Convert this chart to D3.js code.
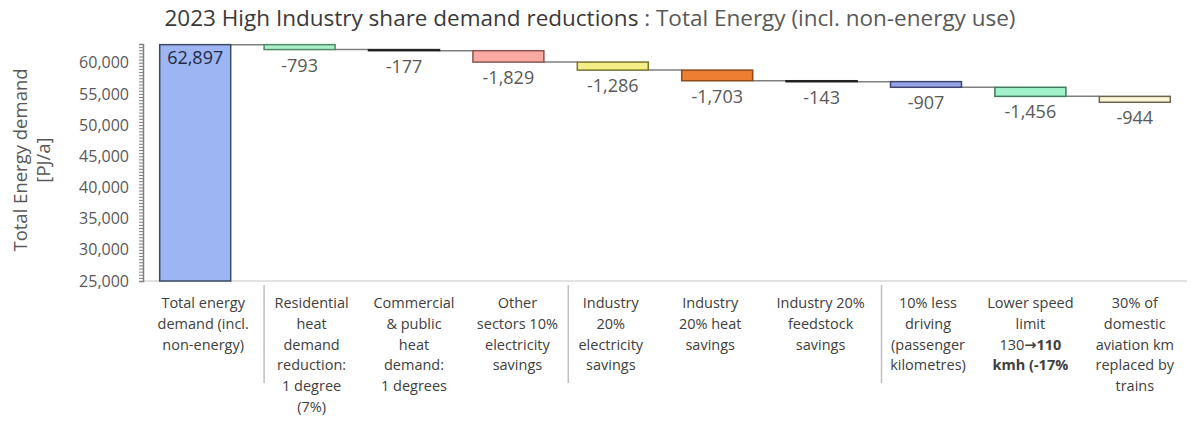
<!DOCTYPE html>
<html>
<head>
<meta charset="utf-8">
<script src="https://cdn.jsdelivr.net/npm/d3@7"></script>
<style>
  html, body { margin: 0; padding: 0; background: #fff; }
  svg { display: block; font-family: "Open Sans", "Noto Sans", sans-serif; }
</style>
</head>
<body>
<svg id="chart" width="1193" height="421"></svg>
<script>
// Demand-reduction steps, PJ/a
const categories = [
  "Total energy demand (incl. non-energy)",
  "Residential heat demand reduction: 1 degree (7%)",
  "Commercial & public heat demand: 1 degrees",
  "Other sectors 10% electricity savings",
  "Industry 20% electricity savings",
  "Industry 20% heat savings",
  "Industry 20% feedstock savings",
  "10% less driving (passenger kilometres)",
  "Lower speed limit 130→110 kmh (-17%",
  "30% of domestic aviation km replaced by trains"
];
const values = [62897, -793, -177, -1829, -1286, -1703, -143, -907, -1456, -944];

// wrapped lines of each category label ({t: text, b: bold})
const categoryLines = [
  [[{t:"Total energy"}], [{t:"demand (incl."}], [{t:"non-energy)"}]],
  [[{t:"Residential"}], [{t:"heat"}], [{t:"demand"}], [{t:"reduction:"}], [{t:"1 degree"}], [{t:"(7%)"}]],
  [[{t:"Commercial"}], [{t:"& public"}], [{t:"heat"}], [{t:"demand:"}], [{t:"1 degrees"}]],
  [[{t:"Other"}], [{t:"sectors 10%"}], [{t:"electricity"}], [{t:"savings"}]],
  [[{t:"Industry"}], [{t:"20%"}], [{t:"electricity"}], [{t:"savings"}]],
  [[{t:"Industry"}], [{t:"20% heat"}], [{t:"savings"}]],
  [[{t:"Industry 20%"}], [{t:"feedstock"}], [{t:"savings"}]],
  [[{t:"10% less"}], [{t:"driving"}], [{t:"(passenger"}], [{t:"kilometres)"}]],
  [[{t:"Lower speed"}], [{t:"limit"}], [{t:"130"}, {t:"→", b:true, arrow:true}, {t:"110", b:true}], [{t:"kmh (-17%", b:true}]],
  [[{t:"30% of"}], [{t:"domestic"}], [{t:"aviation km"}], [{t:"replaced by"}], [{t:"trains"}]]
];

// category groups are separated before these indices
const groupStarts = [1, 4, 7];

// horizontal nudge of each category label from its band centre (px)
const labelShift = [8, 12, 10, 9, -2, -7, -1, 2, 0, 0];

const yTicks = [25000, 30000, 35000, 40000, 45000, 50000, 55000, 60000];
const yMin = 25000, yMax = 63000;

const fills   = ["#9db6f3", "#aaf0cb", "#3a3a3a", "#f8a9a2", "#f4ef84", "#ee7e32", "#2e2e2e", "#95a4e6", "#a2f3cb", "#fdf5d7"];
const strokes = ["#3c4a66", "#4f8a68", "#222222", "#8a5550", "#77742f", "#8a4a1a", "#222222", "#3f4670", "#3f7a5a", "#6a6450"];

const svg = d3.select("#chart");
const locale = d3.formatLocale({ decimal: ".", thousands: ",", grouping: [3], currency: ["", ""], minus: "-" });
const fmt = locale.format(",");

const x = d3.scaleBand()
  .domain(d3.range(categories.length))
  .range([143, 1187])
  .paddingInner(0.32)
  .paddingOuter(0.16);

const y = d3.scaleLinear().domain([yMin, yMax]).range([281, 44]);

// running totals
const steps = [];
let running = 0;
values.forEach((v, i) => {
  if (i === 0) {
    steps.push({ i, v, start: yMin, end: v, top: v, bottom: yMin });
    running = v;
  } else {
    const start = running, end = running + v;
    steps.push({ i, v, start, end, top: Math.max(start, end), bottom: Math.min(start, end) });
    running = end;
  }
});

// title
const title = svg.append("text")
  .attr("x", 590).attr("y", 26)
  .attr("text-anchor", "middle")
  .attr("font-size", 22.5);
title.append("tspan").attr("fill", "#3a3a3a").text("2023 High Industry share demand reductions");
title.append("tspan").attr("fill", "#595959").text(" : Total Energy (incl. non-energy use)");

// y-axis title
const yTitle = svg.append("text")
  .attr("transform", "translate(0,160) rotate(-90)")
  .attr("text-anchor", "middle")
  .attr("fill", "#595959")
  .attr("font-size", 18.5);
yTitle.append("tspan").attr("x", 0).attr("y", 27).text("Total Energy demand");
yTitle.append("tspan").attr("x", 0).attr("y", 50).text("[PJ/a]");

// baseline along the category axis
svg.append("line")
  .attr("x1", 143).attr("x2", 1187)
  .attr("y1", y(yMin)).attr("y2", y(yMin))
  .attr("stroke", "#d9d9d9").attr("stroke-width", 1.5);

// y axis with minor ticks
const minorTicks = d3.range(yMin, yMax + 1, 500);
const yMinorAxis = d3.axisLeft(y).tickValues(minorTicks).tickSize(4).tickFormat("");
const gMinor = svg.append("g").attr("transform", "translate(143,0)").call(yMinorAxis);
gMinor.select(".domain").attr("stroke", "#7f7f7f").attr("stroke-width", 1.5);
gMinor.selectAll(".tick line").attr("stroke", "#7f7f7f");

const yAxis = d3.axisLeft(y).tickValues(yTicks).tickSize(0).tickPadding(14).tickFormat(fmt);
const gAxis = svg.append("g").attr("transform", "translate(143,0)").call(yAxis);
gAxis.select(".domain").remove();
gAxis.selectAll(".tick text")
  .attr("fill", "#595959")
  .attr("font-family", "'Open Sans', sans-serif")
  .attr("font-size", 16);

// connectors between consecutive bars
steps.slice(0, -1).forEach((s, k) => {
  svg.append("line")
    .attr("x1", x(k) + x.bandwidth()).attr("x2", x(k + 1))
    .attr("y1", y(s.end)).attr("y2", y(s.end))
    .attr("stroke", "#7f7f7f").attr("stroke-width", 1.5);
});

// bars
svg.append("g").selectAll("rect")
  .data(steps)
  .join("rect")
  .attr("x", d => x(d.i))
  .attr("width", x.bandwidth())
  .attr("y", d => y(d.top))
  .attr("height", d => Math.max(1, y(d.bottom) - y(d.top)))
  .attr("fill", d => fills[d.i])
  .attr("stroke", d => strokes[d.i])
  .attr("stroke-width", 1.5);

// value labels
svg.append("g").selectAll("text")
  .data(steps)
  .join("text")
  .attr("x", d => x(d.i) + x.bandwidth() / 2)
  .attr("y", d => d.i === 0 ? y(d.top) + 19 : y(d.bottom) + 22)
  .attr("text-anchor", "middle")
  .attr("font-size", 18)
  .attr("fill", d => d.i === 0 ? "#1f2a44" : "#595959")
  .text(d => fmt(d.v));

// category labels
const gCat = svg.append("g");
categoryLines.forEach((lines, i) => {
  const t = gCat.append("text")
    .attr("text-anchor", "middle")
    .attr("font-size", 14.5)
    .attr("fill", "#404040");
  lines.forEach((parts, li) => {
    const line = t.append("tspan")
      .attr("x", x(i) + x.bandwidth() / 2 + labelShift[i])
      .attr("y", 308 + li * 20.8);
    parts.forEach(p => {
      const s = line.append("tspan").attr("font-weight", p.b ? "bold" : null).text(p.t);
      if (p.arrow) s.attr("font-family", "'DejaVu Sans', sans-serif");
    });
  });
});

// group separators
groupStarts.forEach(i => {
  const sx = i === 1 ? x(i) : x(i) - 9;
  svg.append("line")
    .attr("x1", sx).attr("x2", sx)
    .attr("y1", 285).attr("y2", 383)
    .attr("stroke", "#bfbfbf").attr("stroke-width", 1.5);
});
</script>
</body>
</html>
